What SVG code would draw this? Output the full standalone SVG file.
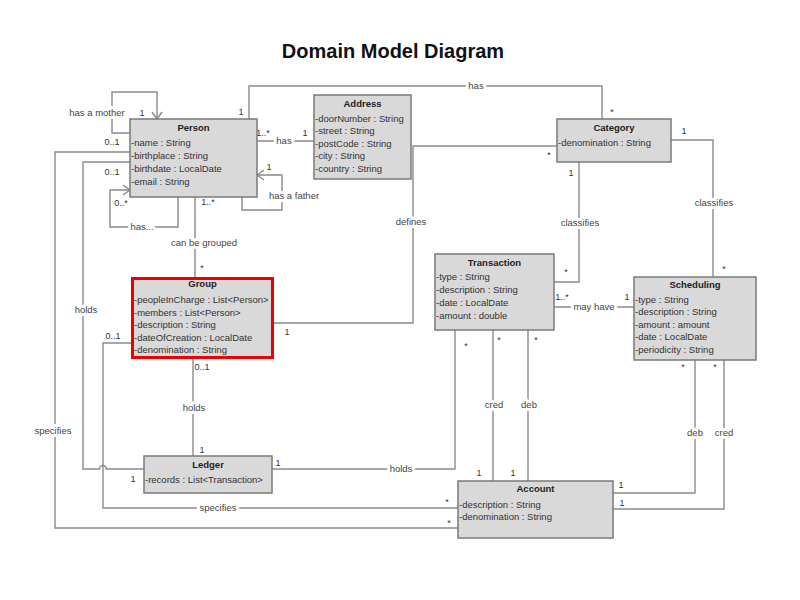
<svg xmlns="http://www.w3.org/2000/svg" width="800" height="600" viewBox="0 0 800 600">
<style>
.box{fill:#d9d9d9;stroke:#7a7a7a;stroke-width:1.5}
.sel{fill:none;stroke:#ee0000;stroke-width:3}
.t{font-family:"Liberation Sans",Arial,sans-serif;font-size:9.5px;font-weight:bold;fill:#222;text-anchor:middle}
.a{font-family:"Liberation Sans",Arial,sans-serif;font-size:9.5px;fill:#333}
.c{fill:none;stroke:#8a8a8a;stroke-width:1.4}
.l{font-family:"Liberation Sans",Arial,sans-serif;font-size:9.5px;fill:#444;text-anchor:middle;paint-order:stroke;stroke:#fff;stroke-width:6px;stroke-linejoin:round}
.m{font-family:"Liberation Sans",Arial,sans-serif;font-size:9px;fill:#333;text-anchor:middle}
.h{font-family:"Liberation Sans",Arial,sans-serif;font-size:20px;font-weight:bold;fill:#111;text-anchor:middle}
</style>
<rect width="800" height="600" fill="#fff"/>
<text class="h" x="393" y="58">Domain Model Diagram</text>

<g id="connectors">
  <!-- has a mother -->
  <path class="c" d="M130,133 H112 V92 H157 V119"/>
  <path class="c" d="M152,112 L157,119 L162,112"/>
  <!-- has a father -->
  <path class="c" d="M257,175 H282 V210 H242 V197"/>
  <path class="c" d="M264,170 L257,175 L264,180"/>
  <!-- has... -->
  <path class="c" d="M178,197 V227 H110 V190 H130"/>
  <path class="c" d="M123,185 L130,190 L123,195"/>
  <!-- Person - Address -->
  <path class="c" d="M257,141 H314"/>
  <!-- Person - Category -->
  <path class="c" d="M249,119 V86 H602 V119"/>
  <!-- can be grouped -->
  <path class="c" d="M195,197 V277"/>
  <!-- Group - Category defines -->
  <path class="c" d="M274,323 H413 V146 H557"/>
  <!-- Category - Transaction classifies -->
  <path class="c" d="M579,162 V282 H554"/>
  <!-- Category - Scheduling classifies -->
  <path class="c" d="M671,140 H713 V277"/>
  <!-- may have -->
  <path class="c" d="M554,307 H634"/>
  <!-- Ledger - Transaction holds -->
  <path class="c" d="M272,469 H455 V330"/>
  <!-- cred / deb to Account -->
  <path class="c" d="M493,330 V481"/>
  <path class="c" d="M528,330 V481"/>
  <!-- Scheduling - Account -->
  <path class="c" d="M695,360 V493 H613"/>
  <path class="c" d="M724,360 V509 H613"/>
  <!-- Group - Ledger holds -->
  <path class="c" d="M193,359 V456"/>
  <!-- Group - Account specifies -->
  <path class="c" d="M131,343 H103 V508 H458"/>
  <!-- Person - Ledger holds (with hop) -->
  <path class="c" d="M130,162 H83 V469 H99.5 A3.5,3.5 0 0 1 106.5,469 H144"/>
  <!-- Person - Account specifies -->
  <path class="c" d="M130,152 H55 V528 H458"/>

  <!-- labels -->
  <text class="l" x="97" y="116">has a mother</text>
  <text class="l" x="294" y="199">has a father</text>
  <text class="l" x="142" y="230">has...</text>
  <text class="l" x="284" y="144">has</text>
  <text class="l" x="476" y="89">has</text>
  <text class="l" x="204" y="246">can be grouped</text>
  <text class="l" x="411" y="225">defines</text>
  <text class="l" x="580" y="226">classifies</text>
  <text class="l" x="714" y="206">classifies</text>
  <text class="l" x="594" y="310">may have</text>
  <text class="l" x="401" y="472">holds</text>
  <text class="l" x="494" y="408">cred</text>
  <text class="l" x="529" y="408">deb</text>
  <text class="l" x="695" y="436">deb</text>
  <text class="l" x="724" y="436">cred</text>
  <text class="l" x="194" y="411">holds</text>
  <text class="l" x="218" y="511">specifies</text>
  <text class="l" x="86" y="313">holds</text>
  <text class="l" x="53" y="434">specifies</text>

  <!-- multiplicities -->
  <text class="m" x="142" y="116">1</text>
  <text class="m" x="112" y="145">0..1</text>
  <text class="m" x="112" y="175">0..1</text>
  <text class="m" x="121" y="206">0..*</text>
  <text class="m" x="269" y="170">1</text>
  <text class="m" x="263" y="136">1..*</text>
  <text class="m" x="305" y="136">1</text>
  <text class="m" x="241" y="115">1</text>
  <text class="m" x="612" y="115">*</text>
  <text class="m" x="208" y="205">1..*</text>
  <text class="m" x="202" y="271">*</text>
  <text class="m" x="287" y="335">1</text>
  <text class="m" x="549" y="158">*</text>
  <text class="m" x="571" y="176">1</text>
  <text class="m" x="566" y="275">*</text>
  <text class="m" x="684" y="134">1</text>
  <text class="m" x="724" y="272">*</text>
  <text class="m" x="562" y="300">1..*</text>
  <text class="m" x="627" y="300">1</text>
  <text class="m" x="466" y="349">*</text>
  <text class="m" x="499" y="343">*</text>
  <text class="m" x="536" y="343">*</text>
  <text class="m" x="683" y="370">*</text>
  <text class="m" x="715" y="370">*</text>
  <text class="m" x="479" y="476">1</text>
  <text class="m" x="513" y="476">1</text>
  <text class="m" x="621" y="488">1</text>
  <text class="m" x="622" y="506">1</text>
  <text class="m" x="278" y="466">1</text>
  <text class="m" x="202" y="370">0..1</text>
  <text class="m" x="202" y="453">1</text>
  <text class="m" x="113" y="339">0..1</text>
  <text class="m" x="133" y="482">1</text>
  <text class="m" x="447" y="505">*</text>
  <text class="m" x="449" y="526">*</text>
</g>

<g id="person">
  <rect class="box" x="130" y="119" width="127" height="78"/>
  <text class="t" x="193.5" y="130.5">Person</text>
  <text class="a" x="131" y="145.5">-name : String</text>
  <text class="a" x="131" y="158.5">-birthplace : String</text>
  <text class="a" x="131" y="171.5">-birthdate : LocalDate</text>
  <text class="a" x="131" y="184.5">-email : String</text>
</g>
<g id="address">
  <rect class="box" x="314" y="95" width="97" height="84"/>
  <text class="t" x="362.5" y="106.5">Address</text>
  <text class="a" x="315" y="121.5">-doorNumber : String</text>
  <text class="a" x="315" y="134">-street : String</text>
  <text class="a" x="315" y="146.5">-postCode : String</text>
  <text class="a" x="315" y="159">-city : String</text>
  <text class="a" x="315" y="171.5">-country : String</text>
</g>
<g id="category">
  <rect class="box" x="557" y="119" width="114" height="43"/>
  <text class="t" x="614" y="130.5">Category</text>
  <text class="a" x="558" y="145.5">-denomination : String</text>
</g>
<g id="transaction">
  <rect class="box" x="435" y="254" width="119" height="76"/>
  <text class="t" x="494.5" y="265.5">Transaction</text>
  <text class="a" x="436" y="279.5">-type : String</text>
  <text class="a" x="436" y="292.5">-description : String</text>
  <text class="a" x="436" y="305.5">-date : LocalDate</text>
  <text class="a" x="436" y="318.5">-amount : double</text>
</g>
<g id="scheduling">
  <rect class="box" x="634" y="277" width="122" height="83"/>
  <text class="t" x="695" y="287.5">Scheduling</text>
  <text class="a" x="635" y="302.5">-type : String</text>
  <text class="a" x="635" y="315">-description : String</text>
  <text class="a" x="635" y="327.5">-amount : amount</text>
  <text class="a" x="635" y="340">-date : LocalDate</text>
  <text class="a" x="635" y="352.5">-periodicity : String</text>
</g>
<g id="group">
  <rect class="box" x="132.5" y="278.5" width="140" height="79"/>
  <rect class="sel" x="132.5" y="278.5" width="140" height="79"/>
  <text class="t" x="202.5" y="287">Group</text>
  <text class="a" x="134" y="302.5">-peopleInCharge : List&lt;Person&gt;</text>
  <text class="a" x="134" y="315.5">-members : List&lt;Person&gt;</text>
  <text class="a" x="134" y="328">-description : String</text>
  <text class="a" x="134" y="340.5">-dateOfCreation : LocalDate</text>
  <text class="a" x="134" y="352.5">-denomination : String</text>
</g>
<g id="ledger">
  <rect class="box" x="144" y="456" width="128" height="37"/>
  <text class="t" x="208" y="467.5">Ledger</text>
  <text class="a" x="145" y="482.5">-records : List&lt;Transaction&gt;</text>
</g>
<g id="account">
  <rect class="box" x="458" y="481" width="155" height="57"/>
  <text class="t" x="535.5" y="491.5">Account</text>
  <text class="a" x="459" y="507.5">-description : String</text>
  <text class="a" x="459" y="519.5">-denomination : String</text>
</g>
</svg>
